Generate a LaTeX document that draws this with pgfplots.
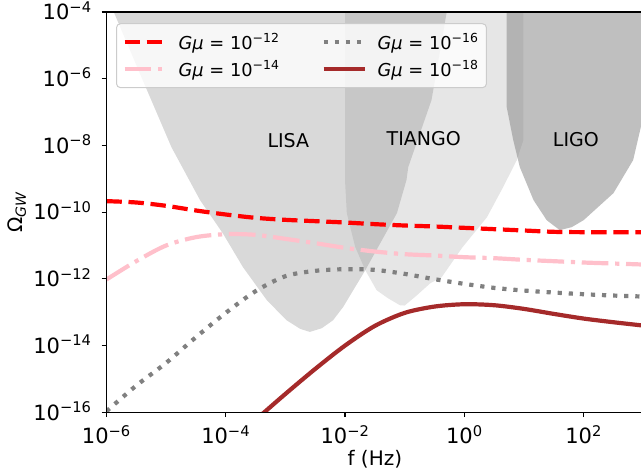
\documentclass[border=0pt]{standalone}
\usepackage{fontspec}
\setmainfont{DejaVu Sans}
\usepackage{pgfplots}
\usepackage{pgfplotstable}
\pgfplotsset{compat=1.18}
\definecolor{mplpink}{RGB}{255,192,203}
\definecolor{mplbrown}{RGB}{165,42,42}
\definecolor{mplgray}{RGB}{128,128,128}

% log10(f)  log10(Omega)
\pgfplotstableread{
lf lo
-6.0 -9.67
-5.5 -9.71
-5.0 -9.81
-4.5 -9.95
-4.0 -10.07
-3.5 -10.17
-3.0 -10.23
-2.5 -10.27
-2.0 -10.31
-1.5 -10.36
-1.0 -10.40
-0.5 -10.43
0.0 -10.47
0.5 -10.51
1.0 -10.55
1.5 -10.59
2.0 -10.60
2.5 -10.60
3.0 -10.60
}\gmtwelve

\pgfplotstableread{
lf lo
-6.0 -12.02
-5.5 -11.47
-5.0 -11.00
-4.5 -10.75
-4.0 -10.66
-3.5 -10.68
-3.0 -10.80
-2.5 -10.93
-2.0 -11.07
-1.5 -11.18
-1.0 -11.26
-0.5 -11.30
0.0 -11.35
0.5 -11.38
1.0 -11.43
1.5 -11.47
2.0 -11.51
2.5 -11.54
3.0 -11.57
}\gmfourteen

\pgfplotstableread{
lf lo
-6.0 -15.97
-5.5 -15.20
-5.0 -14.52
-4.5 -13.75
-4.0 -13.02
-3.5 -12.37
-3.0 -11.92
-2.5 -11.76
-2.0 -11.71
-1.5 -11.73
-1.0 -11.85
-0.5 -12.01
0.0 -12.15
0.5 -12.27
1.0 -12.35
1.5 -12.41
2.0 -12.46
2.5 -12.50
3.0 -12.53
}\gmsixteen

\pgfplotstableread{
lf lo
-3.45 -16.15
-3.0 -15.45
-2.5 -14.70
-2.0 -14.00
-1.5 -13.41
-1.0 -13.02
-0.5 -12.83
0.0 -12.76
0.5 -12.79
1.0 -12.90
1.5 -13.05
2.0 -13.19
2.5 -13.30
3.0 -13.40
}\gmeighteen

\pgfplotstableread{
lf lo
-5.90 -3.90
-5.32 -6.34
-4.91 -8.05
-4.43 -9.64
-4.05 -10.63
-3.71 -11.65
-3.31 -12.64
-2.98 -13.24
-2.75 -13.50
-2.59 -13.59
-2.39 -13.48
-2.20 -13.24
-2.03 -12.84
-1.66 -11.74
-1.13 -10.03
-0.97 -9.04
-0.94 -8.65
-0.55 -6.64
-0.295 -4.00
-0.28 -3.90
}\lisa

\pgfplotstableread{
lf lo
-2.00 -3.90
-2.00 -9.04
-1.97 -10.03
-1.83 -11.04
-1.66 -11.74
-1.47 -12.34
-1.28 -12.58
-1.08 -12.79
-1.00 -12.80
-0.80 -12.50
-0.57 -12.13
-0.38 -11.95
-0.03 -11.05
0.38 -10.15
0.65 -9.25
0.88 -8.44
0.99 -7.84
0.99 -3.90
}\tiango

\pgfplotstableread{
lf lo
0.71 -3.90
0.71 -6.85
0.82 -7.84
0.93 -8.65
1.16 -9.64
1.38 -10.24
1.60 -10.54
1.80 -10.45
2.00 -10.24
2.50 -9.43
2.83 -8.44
2.96 -7.44
3.10 -6.40
3.20 -3.90
}\ligo

\begin{document}
\begin{tikzpicture}
\begin{axis}[
  name=ax,
  scale only axis, width=536.9bp, height=400.3bp,
  xmode=log, ymode=log,
  xmin=1e-6, xmax=1e3, ymin=1e-16, ymax=1e-4,
  xtick={1e-6,1e-4,1e-2,1,1e2},
  xticklabels={10\textsuperscript{−6},10\textsuperscript{−4},10\textsuperscript{−2},10\textsuperscript{0},10\textsuperscript{2}},
  ytick={1e-16,1e-14,1e-12,1e-10,1e-8,1e-6,1e-4},
  yticklabels={10\textsuperscript{−16},10\textsuperscript{−14},10\textsuperscript{−12},10\textsuperscript{−10},10\textsuperscript{−8},10\textsuperscript{−6},10\textsuperscript{−4}},
  minor xtick={}, minor ytick={},
  tick align=outside, tick pos=left,
  major tick length=4.9bp,
  every tick/.style={black, line width=1.1bp},
  axis line style={line width=1.1bp},
  axis on top,
  xticklabel style={font=\fontsize{21bp}{25bp}\selectfont, anchor=base, inner sep=0pt, yshift=-26.7bp},
  yticklabel style={font=\fontsize{21bp}{25bp}\selectfont, anchor=base east, inner sep=0pt, xshift=-9.7bp, yshift=-7.7bp},
  every axis x label/.style={at={(axis description cs:0.5,0)}, anchor=base, yshift=-52.7bp, font=\fontsize{20bp}{24bp}\selectfont},
  every axis y label/.style={at={(axis description cs:-0.1665,0.5)}, rotate=90, anchor=center, font=\fontsize{20bp}{24bp}\selectfont},
  xlabel={f (Hz)},
  ylabel={Ω\textsubscript{\textit{GW}}},
  legend columns=2,
  legend cell align=left,
  legend image code/.code={\draw[#1] (0bp,0bp) -- (41bp,0bp);},
  legend style={at={(axis description cs:0.0179,0.972)}, anchor=north west,
    draw=black!20, line width=1bp, fill=white, fill opacity=0.8, text opacity=1,
    rounded corners=4bp, inner xsep=6bp, inner ysep=8bp,
    font=\fontsize{17.8bp}{21bp}\selectfont, row sep=6bp,
    /tikz/every odd column/.append style={column sep=9bp},
    /tikz/every even column/.append style={column sep=40bp}},
]
\addplot[fill=mplgray, fill opacity=0.3, draw=none, forget plot] table[x expr=10^(\thisrow{lf}), y expr=10^(\thisrow{lo})] {\lisa};
\addplot[fill=mplgray, fill opacity=0.2, draw=none, forget plot] table[x expr=10^(\thisrow{lf}), y expr=10^(\thisrow{lo})] {\tiango};
\addplot[fill=mplgray, fill opacity=0.5, draw=none, forget plot] table[x expr=10^(\thisrow{lf}), y expr=10^(\thisrow{lo})] {\ligo};

\addplot[red, line width=4.2bp, dash pattern=on 15.4bp off 6.7bp, smooth] table[x expr=10^(\thisrow{lf}), y expr=10^(\thisrow{lo})] {\gmtwelve};
\addlegendentry{\textit{Gμ} = 10\textsuperscript{−12}}
\addplot[mplgray, line width=4.2bp, dash pattern=on 4.2bp off 6.9bp, smooth] table[x expr=10^(\thisrow{lf}), y expr=10^(\thisrow{lo})] {\gmsixteen};
\addlegendentry{\textit{Gμ} = 10\textsuperscript{−16}}
\addplot[mplpink, line width=4.2bp, dash pattern=on 26.7bp off 6.7bp on 4.2bp off 6.7bp, smooth] table[x expr=10^(\thisrow{lf}), y expr=10^(\thisrow{lo})] {\gmfourteen};
\addlegendentry{\textit{Gμ} = 10\textsuperscript{−14}}
\addplot[mplbrown, line width=4.2bp, smooth] table[x expr=10^(\thisrow{lf}), y expr=10^(\thisrow{lo})] {\gmeighteen};
\addlegendentry{\textit{Gμ} = 10\textsuperscript{−18}}

\node[font=\fontsize{19bp}{23bp}\selectfont] at (axis cs:1.122e-3,1.445e-8) {LISA};
\node[font=\fontsize{19bp}{23bp}\selectfont] at (axis cs:0.209,1.622e-8) {TIANGO};
\node[font=\fontsize{19bp}{23bp}\selectfont] at (axis cs:74.1,1.514e-8) {LIGO};
\end{axis}
\pgfresetboundingbox
\path[use as bounding box] ([xshift=-106.4bp,yshift=-61.7bp]ax.south west) rectangle ([xshift=-2.3bp,yshift=12bp]ax.north east);
\end{tikzpicture}
\end{document}
